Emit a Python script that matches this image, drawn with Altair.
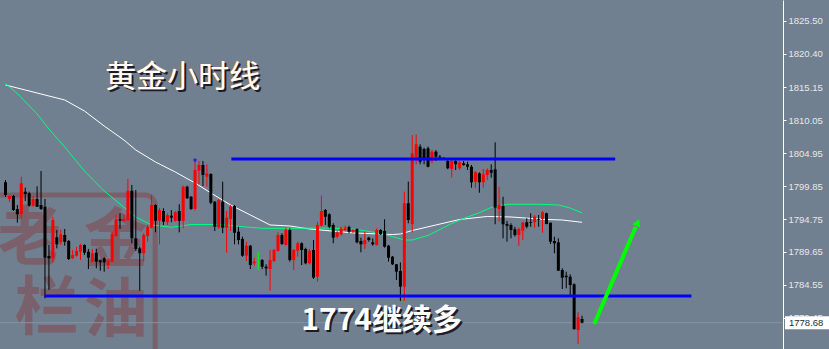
import altair as alt
import pandas as pd

# ---------------- data ----------------
opens = [1800.45, 1797.86, 1798.32, 1796.31, 1795.49, 1798.99, 1798.74, 1796.82, 1797.86, 1796.93,
         1796.66, 1789.02, 1788.66, 1791.92, 1791.14, 1792.28, 1791.35, 1788.66, 1789.07, 1789.69,
         1790.73, 1789.69, 1788.14, 1789.53, 1788.35, 1788.66, 1787.62, 1788.14, 1792.12, 1794.71,
         1794.45, 1794.60, 1799.14, 1791.76, 1790.21, 1789.44, 1792.12, 1793.41, 1796.93, 1794.49,
         1796.00, 1794.25, 1795.27, 1794.45, 1796.00, 1794.45, 1799.76, 1798.21, 1796.31, 1802.25,
         1803.13, 1801.31, 1801.73, 1797.44, 1793.47, 1797.44, 1793.41, 1794.76, 1796.77, 1792.79,
         1791.66, 1789.07, 1790.62, 1787.89, 1788.40, 1788.40, 1787.36, 1787.00, 1788.25, 1789.80,
         1792.28, 1790.73, 1793.05, 1788.40, 1789.84, 1790.99, 1790.11, 1787.89, 1789.95, 1785.81,
         1793.72, 1796.15, 1795.49, 1793.83, 1792.01, 1792.38, 1793.05, 1793.52, 1792.79, 1793.21,
         1791.35, 1790.83, 1791.86, 1791.14, 1790.73, 1793.05, 1792.90, 1790.62, 1788.91, 1787.73,
         1786.69, 1784.26, 1797.19, 1793.98, 1804.26, 1805.97, 1805.61, 1805.72, 1803.75, 1805.19,
         1804.42, 1804.17, 1803.75, 1802.51, 1803.75, 1802.62, 1803.39, 1803.24, 1802.86, 1800.54,
         1801.84, 1800.45, 1801.58, 1802.35, 1802.46, 1796.31, 1796.77, 1793.98, 1793.83, 1793.16,
         1792.28, 1792.94, 1794.25, 1794.25, 1794.25, 1794.71, 1794.76, 1795.64, 1794.18, 1791.35,
         1791.14, 1786.85, 1785.97, 1785.81, 1784.63, 1777.55, 1779.25]
highs = [1800.80, 1798.40, 1798.48, 1796.93, 1801.31, 1799.61, 1798.99, 1798.32, 1799.83, 1802.20,
         1797.86, 1790.73, 1795.11, 1793.05, 1793.10, 1793.21, 1791.50, 1789.95, 1790.46, 1790.88,
         1790.83, 1790.11, 1790.11, 1790.11, 1788.45, 1788.82, 1788.66, 1792.79, 1795.38, 1795.64,
         1795.49, 1800.96, 1800.03, 1799.25, 1790.46, 1792.54, 1793.83, 1798.48, 1797.04, 1796.42,
         1796.42, 1795.64, 1796.15, 1796.00, 1797.04, 1799.92, 1799.92, 1798.32, 1803.75, 1803.75,
         1803.75, 1803.24, 1801.84, 1797.55, 1797.86, 1800.54, 1796.00, 1796.93, 1796.93, 1793.56,
         1792.01, 1791.24, 1790.73, 1788.76, 1789.69, 1788.55, 1787.73, 1789.95, 1790.11, 1792.69,
         1792.54, 1793.41, 1793.31, 1790.11, 1791.24, 1791.14, 1790.31, 1790.11, 1791.50, 1794.34,
         1798.37, 1796.31, 1795.64, 1794.09, 1792.90, 1793.56, 1793.72, 1793.72, 1793.21, 1793.31,
         1791.86, 1792.79, 1792.01, 1791.76, 1793.31, 1793.21, 1794.71, 1790.73, 1789.02, 1787.78,
         1788.04, 1798.99, 1800.54, 1807.78, 1807.89, 1806.34, 1805.81, 1805.97, 1805.45, 1805.45,
         1804.68, 1804.37, 1804.17, 1803.90, 1803.90, 1803.75, 1803.75, 1803.64, 1803.13, 1802.20,
         1802.00, 1802.51, 1802.62, 1803.24, 1806.65, 1799.76, 1798.21, 1794.45, 1794.09, 1793.56,
         1793.41, 1794.34, 1794.87, 1795.64, 1795.38, 1795.38, 1796.00, 1795.73, 1794.18, 1792.01,
         1791.76, 1787.11, 1786.59, 1786.18, 1784.79, 1780.29, 1779.76]
lows = [1798.17, 1797.39, 1796.00, 1794.18, 1794.76, 1797.55, 1796.66, 1796.66, 1796.62, 1796.15,
        1782.46, 1783.75, 1788.04, 1790.21, 1790.73, 1790.62, 1788.40, 1788.55, 1788.91, 1788.40,
        1789.18, 1787.00, 1788.04, 1787.11, 1786.74, 1786.59, 1787.00, 1788.04, 1792.01, 1793.21,
        1794.34, 1794.45, 1790.99, 1789.80, 1783.64, 1788.14, 1791.24, 1793.31, 1792.69, 1790.83,
        1793.83, 1793.83, 1794.25, 1794.34, 1792.69, 1793.31, 1797.86, 1796.15, 1796.07, 1800.14,
        1799.87, 1799.76, 1797.04, 1792.90, 1793.21, 1792.54, 1789.53, 1792.90, 1790.83, 1790.83,
        1788.91, 1788.25, 1787.00, 1787.52, 1786.85, 1787.00, 1785.97, 1783.64, 1788.04, 1789.69,
        1790.73, 1790.62, 1788.14, 1786.85, 1788.91, 1787.62, 1787.73, 1787.73, 1785.45, 1785.04,
        1793.56, 1793.83, 1793.31, 1790.99, 1791.76, 1792.17, 1792.90, 1792.54, 1792.54, 1790.99,
        1789.59, 1790.11, 1791.24, 1790.62, 1790.62, 1792.28, 1790.31, 1788.14, 1787.62, 1785.30,
        1782.04, 1782.04, 1794.09, 1792.69, 1803.24, 1803.24, 1803.24, 1802.77, 1803.39, 1803.75,
        1804.17, 1803.90, 1802.46, 1801.16, 1802.35, 1802.35, 1803.02, 1802.35, 1799.61, 1799.52,
        1798.83, 1799.61, 1800.80, 1801.16, 1793.94, 1794.34, 1791.76, 1791.24, 1791.76, 1792.01,
        1790.62, 1791.50, 1793.31, 1793.56, 1793.41, 1793.56, 1792.63, 1793.94, 1790.88, 1789.44,
        1786.74, 1783.90, 1784.01, 1782.97, 1777.55, 1775.38, 1778.58]
closes = [1798.48, 1798.32, 1796.15, 1795.49, 1800.29, 1798.63, 1796.82, 1797.86, 1796.66, 1796.31,
          1788.76, 1788.66, 1794.60, 1790.83, 1792.38, 1791.24, 1788.55, 1789.18, 1789.80, 1790.73,
          1789.53, 1788.76, 1789.44, 1788.14, 1788.04, 1788.04, 1788.29, 1792.38, 1794.71, 1794.49,
          1794.76, 1799.14, 1791.76, 1790.11, 1789.44, 1792.28, 1793.56, 1796.93, 1794.49, 1796.15,
          1794.34, 1795.38, 1794.96, 1795.80, 1794.45, 1799.76, 1797.97, 1796.31, 1802.35, 1803.13,
          1801.58, 1801.84, 1797.28, 1793.56, 1797.70, 1793.41, 1794.96, 1796.66, 1792.63, 1791.50,
          1789.07, 1790.62, 1787.62, 1788.14, 1788.40, 1787.36, 1787.11, 1788.40, 1789.95, 1792.28,
          1790.88, 1793.05, 1788.40, 1789.95, 1790.99, 1789.95, 1787.89, 1789.84, 1785.66, 1793.83,
          1796.00, 1795.11, 1793.56, 1791.86, 1792.69, 1793.31, 1793.41, 1792.79, 1793.05, 1791.14,
          1790.83, 1791.50, 1791.50, 1790.83, 1793.05, 1792.38, 1790.46, 1788.76, 1787.73, 1786.59,
          1784.26, 1797.19, 1794.60, 1804.94, 1806.34, 1803.64, 1803.90, 1802.86, 1805.19, 1804.42,
          1804.26, 1804.01, 1802.62, 1803.75, 1803.24, 1803.55, 1803.13, 1802.86, 1800.45, 1802.00,
          1800.45, 1801.69, 1802.35, 1801.93, 1796.51, 1796.93, 1793.94, 1793.72, 1793.05, 1792.28,
          1793.21, 1794.18, 1793.56, 1794.14, 1795.11, 1794.60, 1795.80, 1793.98, 1791.24, 1790.99,
          1786.74, 1785.66, 1785.72, 1784.52, 1777.70, 1779.52, 1778.68]
candle_index = list(range(len(opens)))

ma_fast_index = [0, 3, 8, 11, 15, 20, 25, 29, 33, 37, 42, 47, 55, 60, 65, 72, 80, 88, 95,
                 101, 103, 107, 113, 117, 120, 123, 127, 135, 140, 143, 146]
ma_fast_value = [1815.76, 1814.21, 1811.04, 1808.71, 1805.92, 1802.20, 1799.10, 1797.08, 1795.07,
                 1793.83, 1793.47, 1793.90, 1793.90, 1793.56, 1793.31, 1793.31, 1793.36, 1793.21,
                 1792.54, 1791.50, 1791.50, 1792.20, 1794.06, 1795.07, 1795.73, 1796.54, 1797.04,
                 1797.04, 1796.93, 1796.46, 1795.69]

ma_slow_index = [0, 5, 10, 15, 20, 25, 30, 33, 38, 43, 48, 52, 57, 62, 67, 72, 77, 88, 98,
                 100, 103, 109, 115, 122, 128, 136, 141, 146]
ma_slow_value = [1815.53, 1814.76, 1813.98, 1813.21, 1811.50, 1809.17, 1807.00, 1805.45, 1803.59,
                 1802.04, 1800.34, 1798.79, 1796.93, 1795.38, 1793.83, 1793.67, 1793.21, 1792.59,
                 1792.35, 1792.43, 1792.97, 1793.83, 1794.68, 1795.15, 1795.07, 1794.71, 1794.60,
                 1794.24]

level_price = [1804.06, 1782.82]
level_start = [57.2, 9.9]
level_end = [154.4, 173.7]

arrow_start = (149.1, 1778.48)
arrow_end = (159.6, 1793.52)
arrow_head = (160.1, 1794.20)

axis_ticks = [1774.35, 1779.45, 1784.55, 1789.65, 1794.75, 1799.85, 1804.95,
              1810.05, 1815.15, 1820.40, 1825.50]
last_price = 1778.68

title_text = "黄金小时线"
title_pos = (44.9, 1816.62)
note_text = "1774继续多"
note_pos = (74.9, 1778.94)

stamp_chars = ["老", "金", "栏", "油"]
stamp_x = [6.1, 27.9, 10.4, 27.9]
stamp_y = [1791.50, 1791.19, 1780.65, 1780.34]

# ---------------- build tables ----------------
def colour(o, c):
    if c > o:
        return "#ff0000"
    if c < o:
        return "#000000"
    return "#00ff00"

candles = pd.DataFrame({"i": candle_index, "open": opens, "high": highs,
                        "low": lows, "close": closes})
candles["col"] = [colour(o, c) for o, c in zip(opens, closes)]

fast = pd.DataFrame({"i": ma_fast_index, "v": ma_fast_value})
slow = pd.DataFrame({"i": ma_slow_index, "v": ma_slow_value})
levels = pd.DataFrame({"p": level_price, "s": level_start, "e": level_end})

BG = "#708090"
xs = alt.Scale(domain=[-0.125, 195.625], nice=False, zero=False)
ys = alt.Scale(domain=[1774.60, 1828.71], nice=False, zero=False)
yaxis = alt.Axis(orient="right", values=axis_ticks, format=".2f", title=None, grid=False,
                 domainColor="#ffffff", domainWidth=1, tickColor="#ffffff", tickSize=3,
                 labelColor="#e8e8e8", labelFont="Liberation Sans", labelFontSize=9.5,
                 labelPadding=2, labelFlush=False, labelOverlap=False)


def X(f):
    return alt.X(f, type="quantitative", scale=xs, axis=None)


def Y(f):
    return alt.Y(f, type="quantitative", scale=ys, axis=yaxis)


# watermark stamp
stamp_df = pd.DataFrame({"t": stamp_chars, "x": stamp_x, "y": stamp_y})
stamp = alt.Chart(stamp_df).mark_text(font="Noto Sans CJK SC", fontSize=64, fontWeight="bold",
                                      color="#8b2e2e", opacity=0.38, align="center",
                                      baseline="middle").encode(x=X("x"), y=Y("y"), text="t:N")
frame_df = pd.DataFrame({"x": [-5.0], "x2": [37.9], "y": [1772.0], "y2": [1798.48]})
frame = alt.Chart(frame_df).mark_rect(fillOpacity=0, stroke="#8b2e2e", strokeOpacity=0.38,
                                      strokeWidth=5, cornerRadius=10).encode(
    x=X("x"), x2="x2", y=Y("y"), y2="y2")

# current price line
price_df = pd.DataFrame({"p": [last_price], "lo": [last_price - 1.0], "hi": [last_price + 1.0],
                         "label": [f"{last_price:.2f}"]})
price_line = alt.Chart(price_df).mark_rule(color="#8593a5", strokeWidth=1).encode(y=Y("p"))

ma_fast = alt.Chart(fast).mark_line(color="#00ff7f", strokeWidth=1).encode(x=X("i"), y=Y("v"))
ma_slow = alt.Chart(slow).mark_line(color="#ffffff", strokeWidth=1).encode(x=X("i"), y=Y("v"))

wicks = alt.Chart(candles).mark_rule(strokeWidth=1).encode(
    x=X("i"), y=Y("low"), y2="high", color=alt.Color("col:N", scale=None))
bodies = alt.Chart(candles).mark_bar(size=3).encode(
    x=X("i"), y=Y("open"), y2="close", color=alt.Color("col:N", scale=None))

marker = alt.Chart(pd.DataFrame({"x": [48], "y": [1803.90]})).mark_point(
    shape="cross", filled=True, size=14, color="#0000ff").encode(x=X("x"), y=Y("y"))

blue = alt.Chart(levels).mark_rule(color="#0000ff", strokeWidth=3).encode(
    x=X("s"), x2="e", y=Y("p"))

arrow_df = pd.DataFrame({"x": [arrow_start[0]], "y": [arrow_start[1]],
                         "x2": [arrow_end[0]], "y2": [arrow_end[1]]})
arrow_line = alt.Chart(arrow_df).mark_rule(color="#00ff00", strokeWidth=4).encode(
    x=X("x"), y=Y("y"), x2="x2", y2="y2")
head_df = pd.DataFrame({"x": [arrow_head[0]], "y": [arrow_head[1]]})
arrow_tip = alt.Chart(head_df).mark_point(shape="triangle-up", filled=True, size=70,
                                          angle=23.5, color="#00ff00", opacity=1).encode(
    x=X("x"), y=Y("y"))

# price label on the axis
label_box = alt.Chart(price_df).mark_rect(color="#ffffff").encode(
    x=alt.value(785), x2=alt.value(829), y=Y("lo"), y2="hi")
label_text = alt.Chart(price_df).mark_text(align="left", baseline="middle", color="#2a2a2a",
                                           font="Liberation Sans", fontSize=9.5).encode(
    x=alt.value(789), y=Y("p"), text="label:N")

# texts
tdf = pd.DataFrame({"x": [title_pos[0]], "y": [title_pos[1]], "t": [title_text]})
t_shadow = alt.Chart(tdf).mark_text(font="Noto Sans CJK SC", fontSize=31, color="#1c1c28",
                                    dx=2, dy=2, align="center", baseline="middle").encode(
    x=X("x"), y=Y("y"), text="t:N")
t_fringe = alt.Chart(tdf).mark_text(font="Noto Sans CJK SC", fontSize=31, color="#d08030",
                                    dx=-1, align="center", baseline="middle").encode(
    x=X("x"), y=Y("y"), text="t:N")
t_main = alt.Chart(tdf).mark_text(font="Noto Sans CJK SC", fontSize=31, color="#ffffff",
                                  align="center", baseline="middle").encode(
    x=X("x"), y=Y("y"), text="t:N")

ndf = pd.DataFrame({"x": [note_pos[0]], "y": [note_pos[1]], "t": [note_text]})
n_shadow = alt.Chart(ndf).mark_text(font="Noto Sans CJK SC", fontSize=30, fontWeight="bold",
                                    color="#1c1c28", dx=2, dy=2, align="left",
                                    baseline="middle").encode(x=X("x"), y=Y("y"), text="t:N")
n_main = alt.Chart(ndf).mark_text(font="Noto Sans CJK SC", fontSize=30, fontWeight="bold",
                                  color="#ffffff", align="left", baseline="middle").encode(
    x=X("x"), y=Y("y"), text="t:N")

chart = alt.layer(
    stamp, frame, price_line, ma_slow, ma_fast, wicks, bodies, marker, blue,
    arrow_line, arrow_tip, label_box, label_text, t_shadow, t_fringe, t_main, n_shadow, n_main
).properties(
    width=783, height=349,
    padding={"left": 0, "top": 0, "right": 46, "bottom": 0},
    autosize="none",
    background=BG,
).configure_view(strokeWidth=0, fill=BG)

chart.save("out.html", embed_options={"renderer": "svg", "actions": False})
